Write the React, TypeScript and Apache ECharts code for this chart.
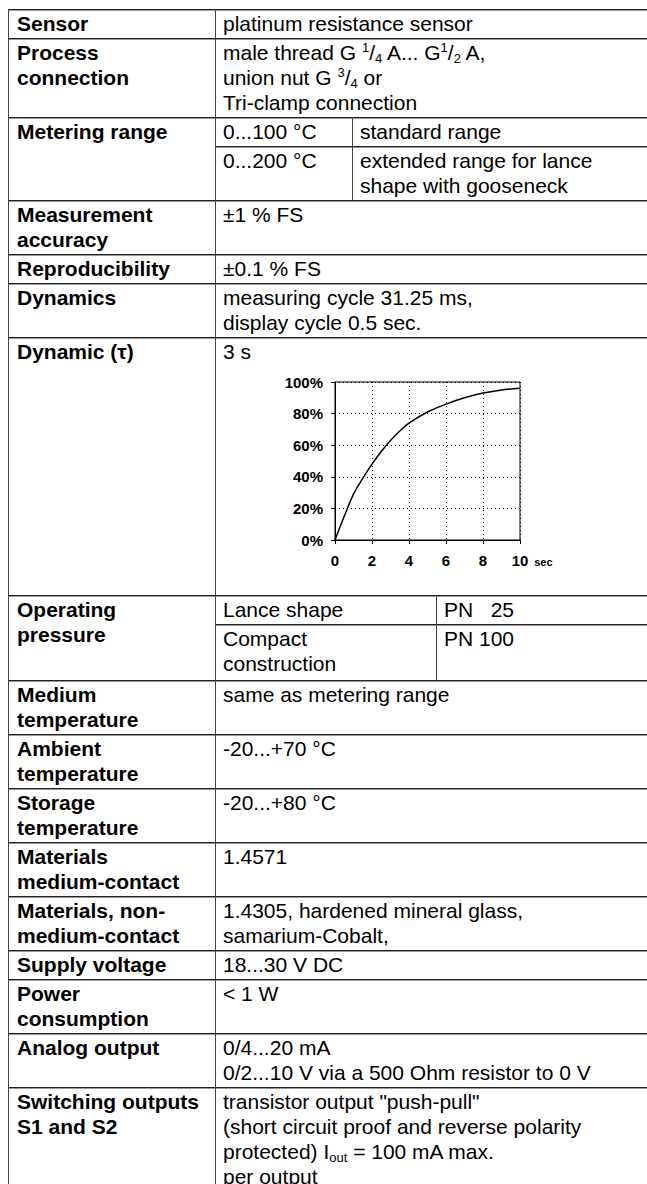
import React, { useEffect, useRef } from "react";
import * as echarts from "echarts";

// ---- chart data ----
const timeSec = [0, 0.5, 1, 1.5, 2, 2.5, 3, 3.5, 4, 5, 6, 7, 8, 9, 10];
const responsePct = [0, 15, 29, 39, 48, 56, 63, 69, 74, 81, 86, 90, 93, 95, 96];
const xAxisMax = 10;
const xAxisStep = 2;
const yAxisMax = 100;
const yAxisStep = 20;
const xUnit = "sec";

const FONT = '"Liberation Sans", Arial, Helvetica, sans-serif';
const FS = 21;

function StepChart() {
  const ref = useRef<HTMLDivElement>(null);
  useEffect(() => {
    if (!ref.current) return;
    const chart = echarts.init(ref.current, undefined, { renderer: "svg" });
    const labelStyle = {
      color: "#000",
      fontWeight: "bold" as const,
      fontSize: 15,
      fontFamily: FONT,
    };
    chart.setOption({
      animation: false,
      grid: {
        left: 105,
        top: 27,
        width: 185,
        height: 158,
        show: true,
        borderColor: "#000",
        borderWidth: 1,
        backgroundColor: "transparent",
      },
      xAxis: {
        type: "value",
        min: 0,
        max: xAxisMax,
        interval: xAxisStep,
        name: xUnit,
        nameLocation: "end",
        nameGap: 13,
        nameTextStyle: {
          color: "#000",
          fontWeight: "bold",
          fontSize: 11,
          fontFamily: FONT,
          verticalAlign: "top",
          padding: [16, 0, 0, 0],
        },
        axisLine: { show: true, lineStyle: { color: "#000", width: 1 } },
        axisTick: { show: true, length: 4, lineStyle: { color: "#000" } },
        axisLabel: { ...labelStyle, margin: 13 },
        splitLine: { show: true, lineStyle: { color: "#000", type: [1, 3], width: 1 } },
      },
      yAxis: {
        type: "value",
        min: 0,
        max: yAxisMax,
        interval: yAxisStep,
        axisLine: { show: true, lineStyle: { color: "#000", width: 1 } },
        axisTick: { show: true, length: 4, lineStyle: { color: "#000" } },
        axisLabel: { ...labelStyle, margin: 12, formatter: "{value}%" },
        splitLine: { show: true, lineStyle: { color: "#000", type: [1, 3], width: 1 } },
      },
      series: [
        {
          type: "line",
          data: timeSec.map((t, i) => [t, responsePct[i]]),
          smooth: 0.3,
          showSymbol: false,
          lineStyle: { color: "#000", width: 1.5 },
        },
      ],
    });
    return () => chart.dispose();
  }, []);
  return (
    <div
      ref={ref}
      style={{ position: "absolute", left: 230, top: 355, width: 360, height: 230 }}
    />
  );
}

// ---- table layout ----
const LEFT = 8;
const COL = 215;
const RIGHT = 700;
const rowTops = [9, 38, 117, 200, 254, 283, 337, 595, 680, 734, 788, 842, 896, 950, 979, 1033, 1087];

const Sup = ({ children }: { children: React.ReactNode }) => (
  <span style={{ fontSize: 13, position: "relative", top: -8, lineHeight: 0 }}>{children}</span>
);
const Sub = ({ children }: { children: React.ReactNode }) => (
  <span style={{ fontSize: 13, position: "relative", top: 3, lineHeight: 0 }}>{children}</span>
);

function T({ x, y, bold, children }: { x: number; y: number; bold?: boolean; children: React.ReactNode }) {
  return (
    <div
      style={{
        position: "absolute",
        left: x,
        top: y + 2,
        fontSize: FS,
        lineHeight: "25px",
        fontWeight: bold ? 700 : 400,
        whiteSpace: "pre",
        color: "#000",
      }}
    >
      {children}
    </div>
  );
}

function HLine({ y, x1 = LEFT, x2 = RIGHT }: { y: number; x1?: number; x2?: number }) {
  return (
    <div style={{ position: "absolute", left: x1, top: y, width: x2 - x1, height: 1, background: "#222", boxShadow: "0 1px 0 #999" }} />
  );
}
function VLine({ x, y1, y2 }: { x: number; y1: number; y2: number }) {
  return <div style={{ position: "absolute", left: x, top: y1, width: 1, height: y2 - y1, background: "#444" }} />;
}

const labels: { top: number; text: string }[] = [
  { top: 9, text: "Sensor" },
  { top: 38, text: "Process\nconnection" },
  { top: 117, text: "Metering range" },
  { top: 200, text: "Measurement\naccuracy" },
  { top: 254, text: "Reproducibility" },
  { top: 283, text: "Dynamics" },
  { top: 337, text: "Dynamic (τ)" },
  { top: 595, text: "Operating\npressure" },
  { top: 680, text: "Medium\ntemperature" },
  { top: 734, text: "Ambient\ntemperature" },
  { top: 788, text: "Storage\ntemperature" },
  { top: 842, text: "Materials\nmedium-contact" },
  { top: 896, text: "Materials, non-\nmedium-contact" },
  { top: 950, text: "Supply voltage" },
  { top: 979, text: "Power\nconsumption" },
  { top: 1033, text: "Analog output" },
  { top: 1087, text: "Switching outputs\nS1 and S2" },
];

const simpleValues: { top: number; text: string }[] = [
  { top: 9, text: "platinum resistance sensor" },
  { top: 200, text: "±1 % FS" },
  { top: 254, text: "±0.1 % FS" },
  { top: 283, text: "measuring cycle 31.25 ms,\ndisplay cycle 0.5 sec." },
  { top: 337, text: "3 s" },
  { top: 680, text: "same as metering range" },
  { top: 734, text: "-20...+70 °C" },
  { top: 788, text: "-20...+80 °C" },
  { top: 842, text: "1.4571" },
  { top: 896, text: "1.4305, hardened mineral glass,\nsamarium-Cobalt," },
  { top: 950, text: "18...30 V DC" },
  { top: 979, text: "< 1 W" },
  { top: 1033, text: "0/4...20 mA\n0/2...10 V via a 500 Ohm resistor to 0 V" },
];

const SUB1 = 352; // metering sub divider
const SUB2 = 436; // operating pressure sub divider

export default function App() {
  const vx = COL + 8;
  const lx = LEFT + 9;
  return (
    <div
      style={{
        position: "absolute",
        left: 0,
        top: 0,
        width: 647,
        height: 1184,
        overflow: "hidden",
        background: "#fff",
        fontFamily: FONT,
      }}
    >
      {rowTops.map((y) => (
        <HLine key={y} y={y} />
      ))}
      <HLine y={146} x1={COL} />
      <HLine y={624} x1={COL} />
      <VLine x={LEFT} y1={9} y2={1184} />
      <VLine x={COL} y1={9} y2={1184} />
      <VLine x={SUB1} y1={117} y2={200} />
      <VLine x={SUB2} y1={595} y2={680} />

      {labels.map((l) => (
        <T key={l.top} x={lx} y={l.top} bold>
          {l.text}
        </T>
      ))}
      {simpleValues.map((v) => (
        <T key={"v" + v.top} x={vx} y={v.top}>
          {v.text}
        </T>
      ))}

      <T x={vx} y={38}>
        <div>
          male thread G <Sup>1</Sup>/<Sub>4</Sub> A... G<Sup>1</Sup>/<Sub>2</Sub> A,
        </div>
        <div>
          union nut G <Sup>3</Sup>/<Sub>4</Sub> or
        </div>
        <div>Tri-clamp connection</div>
      </T>

      <T x={vx} y={117}>0...100 °C</T>
      <T x={SUB1 + 8} y={117}>standard range</T>
      <T x={vx} y={146}>0...200 °C</T>
      <T x={SUB1 + 8} y={146}>{"extended range for lance\nshape with gooseneck"}</T>

      <T x={vx} y={595}>Lance shape</T>
      <T x={SUB2 + 8} y={595}>{"PN   25"}</T>
      <T x={vx} y={624}>{"Compact\nconstruction"}</T>
      <T x={SUB2 + 8} y={624}>PN 100</T>

      <T x={vx} y={1087}>
        <div>transistor output "push-pull"</div>
        <div>(short circuit proof and reverse polarity</div>
        <div>
          protected) I<Sub>out</Sub> = 100 mA max.
        </div>
        <div>per output</div>
      </T>

      <StepChart />
    </div>
  );
}
